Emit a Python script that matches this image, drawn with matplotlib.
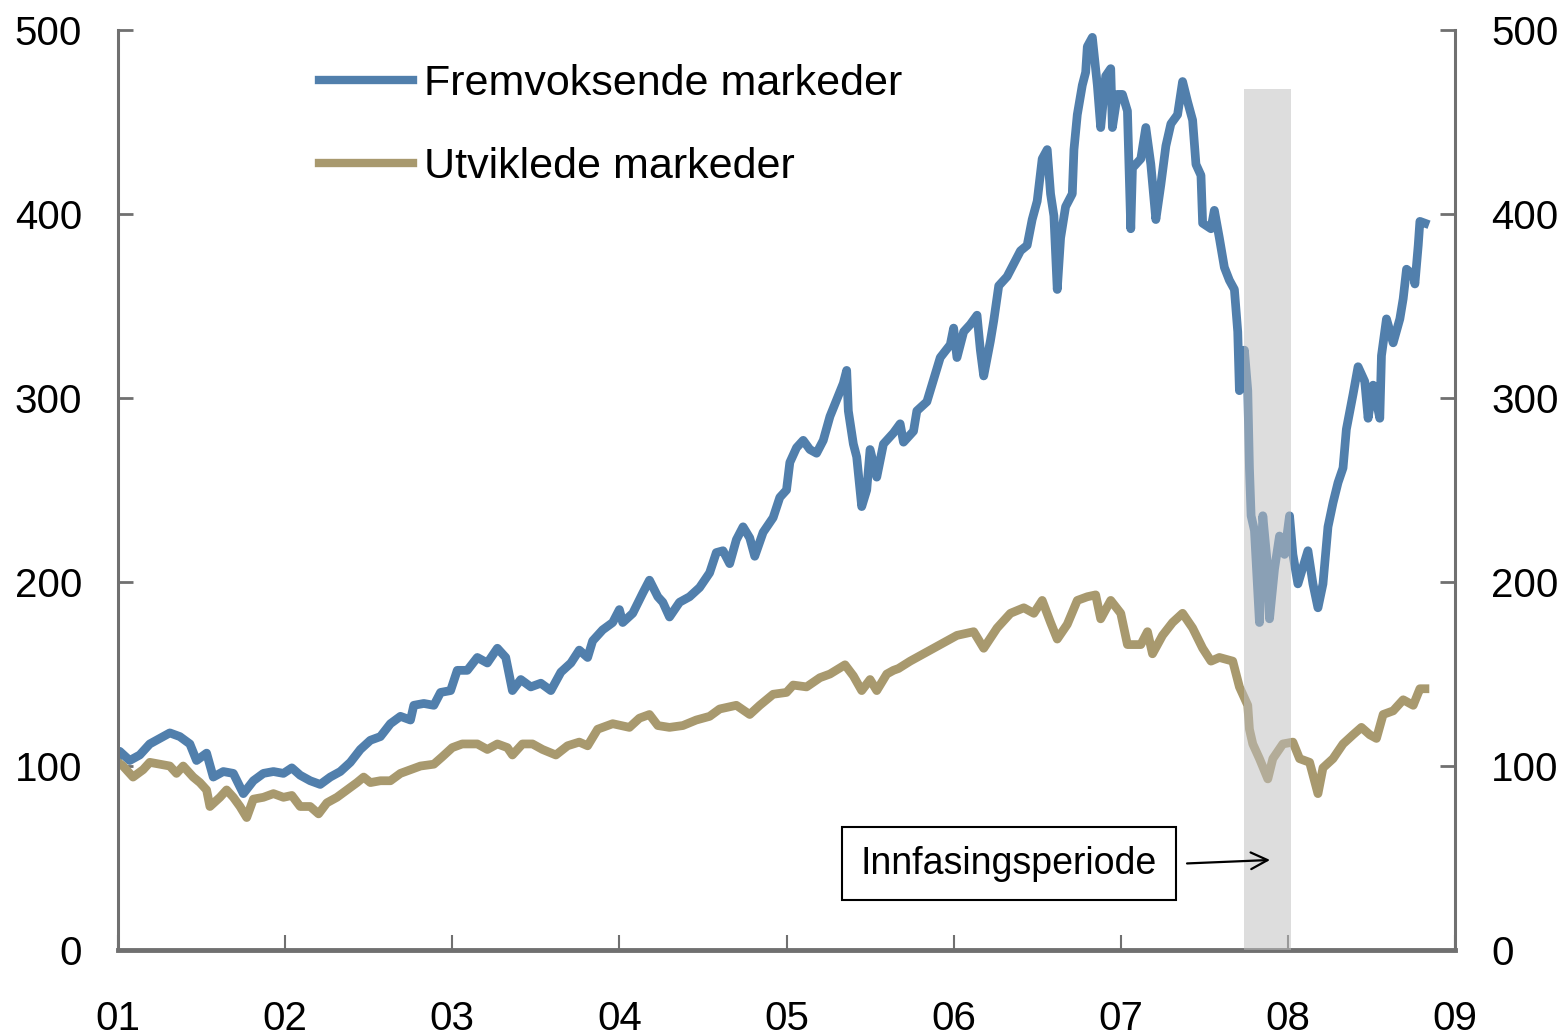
import numpy as np
import matplotlib
matplotlib.use("Agg")
import matplotlib.pyplot as plt

plt.rcParams['font.family'] = ['Liberation Sans', 'DejaVu Sans']

# fremvoksende markeder (indeks, 2001 = 100)
em_year = [2001.00, 2001.01, 2001.07, 2001.13, 2001.19, 2001.25, 2001.31, 2001.37, 2001.43, 2001.47,
           2001.53, 2001.57, 2001.63, 2001.69, 2001.75, 2001.81, 2001.87, 2001.93, 2001.99, 2002.04,
           2002.09, 2002.15, 2002.21, 2002.27, 2002.33, 2002.39, 2002.45, 2002.51, 2002.57, 2002.63,
           2002.69, 2002.75, 2002.77, 2002.83, 2002.89, 2002.93, 2002.99, 2003.03, 2003.09, 2003.15,
           2003.21, 2003.27, 2003.32, 2003.36, 2003.41, 2003.47, 2003.53, 2003.59, 2003.65, 2003.71,
           2003.76, 2003.81, 2003.84, 2003.90, 2003.96, 2004.00, 2004.02, 2004.08, 2004.14, 2004.18,
           2004.23, 2004.26, 2004.30, 2004.36, 2004.42, 2004.48, 2004.54, 2004.58, 2004.62, 2004.66,
           2004.70, 2004.74, 2004.78, 2004.81, 2004.86, 2004.92, 2004.96, 2005.00, 2005.02, 2005.06,
           2005.10, 2005.14, 2005.18, 2005.22, 2005.26, 2005.30, 2005.34, 2005.36, 2005.37, 2005.40,
           2005.42, 2005.45, 2005.48, 2005.50, 2005.54, 2005.58, 2005.64, 2005.68, 2005.70, 2005.76,
           2005.78, 2005.84, 2005.88, 2005.92, 2005.98, 2006.00, 2006.02, 2006.06, 2006.10, 2006.14,
           2006.16, 2006.18, 2006.22, 2006.24, 2006.27, 2006.32, 2006.36, 2006.40, 2006.44, 2006.47,
           2006.50, 2006.53, 2006.56, 2006.58, 2006.60, 2006.62, 2006.64, 2006.67, 2006.71, 2006.72,
           2006.74, 2006.77, 2006.79, 2006.80, 2006.83, 2006.86, 2006.88, 2006.91, 2006.94, 2006.95,
           2006.98, 2007.01, 2007.04, 2007.06, 2007.07, 2007.12, 2007.15, 2007.18, 2007.21, 2007.24,
           2007.27, 2007.30, 2007.34, 2007.37, 2007.40, 2007.43, 2007.45, 2007.48, 2007.49, 2007.54,
           2007.56, 2007.59, 2007.62, 2007.65, 2007.68, 2007.70, 2007.71, 2007.74, 2007.76, 2007.77,
           2007.78, 2007.80, 2007.83, 2007.85, 2007.88, 2007.89, 2007.92, 2007.95, 2007.98, 2008.01,
           2008.03, 2008.06, 2008.12, 2008.15, 2008.18, 2008.21, 2008.24, 2008.27, 2008.30, 2008.33,
           2008.35, 2008.39, 2008.42, 2008.46, 2008.48, 2008.51, 2008.55, 2008.56, 2008.59, 2008.63,
           2008.67, 2008.69, 2008.71, 2008.75, 2008.76, 2008.78, 2008.79, 2008.82]
em_value = [105, 108, 103, 106, 112, 115, 118, 116, 112, 103,
            107, 94, 97, 96, 85, 92, 96, 97, 96, 99,
            95, 92, 90, 94, 97, 102, 109, 114, 116, 123,
            127, 125, 133, 134, 133, 140, 141, 152, 152, 159,
            156, 164, 159, 141, 147, 143, 145, 141, 151, 156,
            163, 159, 168, 174, 178, 185, 178, 183, 194, 201,
            192, 189, 181, 189, 192, 197, 205, 216, 217, 210,
            223, 230, 224, 214, 227, 235, 246, 250, 265, 273,
            277, 272, 270, 277, 290, 299, 308, 315, 293, 275,
            268, 241, 250, 272, 257, 275, 281, 286, 276, 282,
            293, 298, 310, 322, 329, 338, 322, 336, 340, 345,
            326, 312, 331, 342, 361, 366, 373, 380, 383, 397,
            407, 430, 435, 411, 399, 359, 387, 404, 411, 435,
            454, 470, 477, 491, 496, 470, 447, 475, 479, 447,
            465, 465, 456, 392, 425, 430, 447, 427, 397, 416,
            437, 449, 454, 472, 461, 451, 427, 421, 395, 392,
            402, 387, 371, 364, 359, 336, 304, 326, 304, 262,
            236, 228, 178, 236, 207, 180, 207, 225, 215, 236,
            215, 199, 217, 199, 186, 199, 230, 243, 254, 262,
            283, 302, 317, 309, 289, 307, 289, 323, 343, 330,
            343, 354, 370, 367, 362, 383, 396, 395]

# utviklede markeder
dm_year = [2001.00, 2001.03, 2001.09, 2001.15, 2001.19, 2001.25, 2001.31, 2001.35, 2001.39, 2001.45,
           2001.49, 2001.53, 2001.55, 2001.61, 2001.65, 2001.69, 2001.73, 2001.77, 2001.81, 2001.87,
           2001.93, 2001.99, 2002.04, 2002.09, 2002.15, 2002.20, 2002.25, 2002.31, 2002.37, 2002.43,
           2002.47, 2002.51, 2002.57, 2002.63, 2002.69, 2002.75, 2002.81, 2002.89, 2002.94, 2003.00,
           2003.06, 2003.15, 2003.21, 2003.27, 2003.33, 2003.36, 2003.42, 2003.48, 2003.54, 2003.62,
           2003.69, 2003.76, 2003.81, 2003.87, 2003.96, 2004.06, 2004.12, 2004.18, 2004.23, 2004.30,
           2004.38, 2004.46, 2004.54, 2004.60, 2004.70, 2004.78, 2004.84, 2004.92, 2005.00, 2005.04,
           2005.12, 2005.20, 2005.26, 2005.35, 2005.40, 2005.45, 2005.50, 2005.54, 2005.60, 2005.64,
           2005.67, 2005.74, 2005.82, 2005.92, 2006.02, 2006.12, 2006.18, 2006.26, 2006.34, 2006.42,
           2006.48, 2006.53, 2006.58, 2006.62, 2006.68, 2006.74, 2006.80, 2006.85, 2006.88, 2006.94,
           2007.00, 2007.04, 2007.12, 2007.16, 2007.19, 2007.25, 2007.31, 2007.37, 2007.43, 2007.49,
           2007.54, 2007.59, 2007.67, 2007.71, 2007.76, 2007.77, 2007.79, 2007.83, 2007.88, 2007.91,
           2007.97, 2008.03, 2008.07, 2008.13, 2008.18, 2008.21, 2008.27, 2008.33, 2008.39, 2008.44,
           2008.49, 2008.53, 2008.57, 2008.63, 2008.69, 2008.75, 2008.79, 2008.82]
dm_value = [102, 100, 94, 98, 102, 101, 100, 96, 100, 94,
            91, 87, 78, 83, 87, 83, 78, 72, 82, 83,
            85, 83, 84, 78, 78, 74, 80, 83, 87, 91,
            94, 91, 92, 92, 96, 98, 100, 101, 105, 110,
            112, 112, 109, 112, 110, 106, 112, 112, 109, 106,
            111, 113, 111, 120, 123, 121, 126, 128, 122, 121,
            122, 125, 127, 131, 133, 128, 133, 139, 140, 144,
            143, 148, 150, 155, 149, 141, 147, 141, 150, 152,
            153, 157, 161, 166, 171, 173, 164, 175, 183, 186,
            183, 190, 178, 169, 177, 190, 192, 193, 180, 190,
            183, 166, 166, 173, 161, 171, 178, 183, 175, 164,
            157, 159, 157, 143, 133, 120, 112, 104, 93, 104,
            112, 113, 104, 102, 85, 99, 104, 112, 117, 121,
            117, 115, 128, 130, 136, 133, 142, 142]

# innfasingsperiode
phase_start = 2007.74
phase_end = 2008.02
phase_top = 468

years = list(range(2001, 2010))
year_labels = ["01", "02", "03", "04", "05", "06", "07", "08", "09"]
y_ticks = [0, 100, 200, 300, 400, 500]

blue = "#517fac"
tan = "#a8996e"
grey = "#707070"

fig = plt.figure(figsize=(15.63, 10.35), dpi=100)
ax = fig.add_axes([0.0755, 0.0821, 0.8554, 0.8889])

ax.plot(em_year, em_value, color=blue, lw=6.3, label="Fremvoksende markeder", zorder=2)
ax.plot(dm_year, dm_value, color=tan, lw=6.3, label="Utviklede markeder", zorder=2)

# skravering over linjene
ax.fill_between([phase_start, phase_end], 0, phase_top, color="#bfbfbf", alpha=0.52,
                lw=0, zorder=3)

ax.annotate("", xy=(2007.91, 49), xytext=(2007.38, 47),
            arrowprops=dict(arrowstyle="->", color="black", lw=1.6, mutation_scale=30))
ax.text(2006.33, 47, "Innfasingsperiode", fontsize=27, ha="center", va="center",
        bbox=dict(boxstyle="square,pad=0.5", fc="white", ec="black", lw=1.5), zorder=4)

ax.set_xlim(2001, 2009)
ax.set_ylim(0, 500)
ax.set_xticks(years)
ax.set_xticklabels(year_labels)
ax.set_yticks(y_ticks)

for s in ["left", "right"]:
    ax.spines[s].set_color(grey)
    ax.spines[s].set_linewidth(2.2)
ax.spines["bottom"].set_color(grey)
ax.spines["bottom"].set_linewidth(3.5)
ax.spines["top"].set_visible(False)

ax.tick_params(axis="y", direction="in", length=11, width=2, color=grey,
               labelsize=29, pad=26, left=True, right=True, labelleft=True, labelright=True)
ax.tick_params(axis="x", direction="in", length=11, width=1.5, color=grey,
               labelsize=29, pad=36)

leg = ax.legend(loc="upper left", bbox_to_anchor=(0.121, 1.005), frameon=False,
                fontsize=31, handlelength=2.2, handletextpad=0.25, labelspacing=1.0)
for line in leg.get_lines():
    line.set_linewidth(6)

fig.savefig("out.png", dpi=100)
